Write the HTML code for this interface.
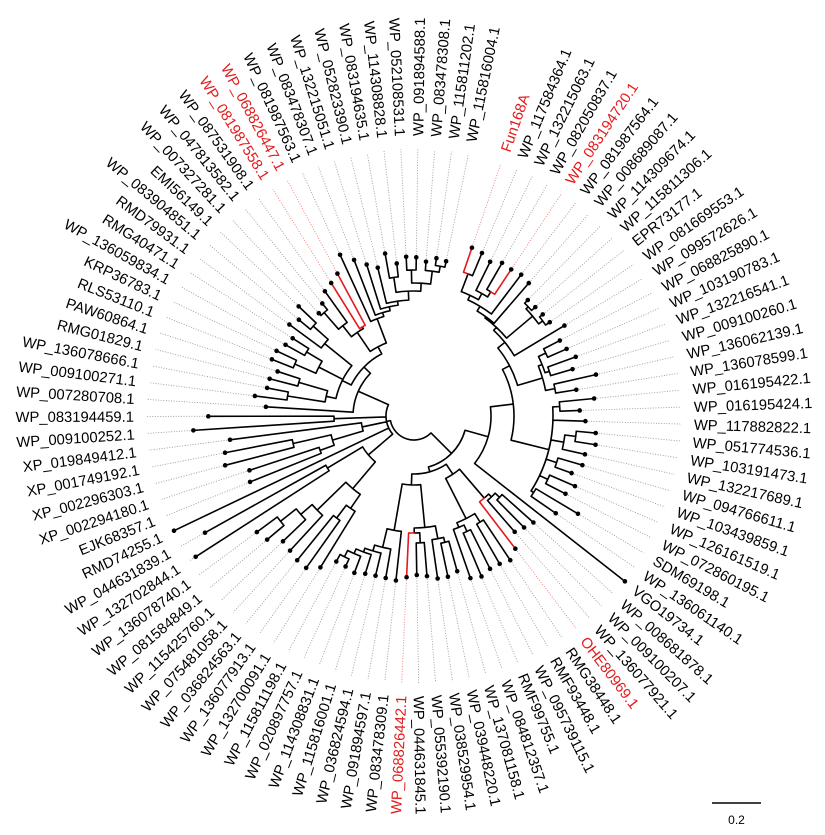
<!DOCTYPE html>
<html><head><meta charset="utf-8">
<style>
html,body{margin:0;padding:0;background:#fff;}
svg{display:block;}
text{font-family:"Liberation Sans",Arial,sans-serif;font-size:14.8px;fill:#000;}
</style></head><body>
<svg id="s" width="825" height="835" viewBox="0 0 825 835" xmlns="http://www.w3.org/2000/svg">
<g id="tree"></g>
<g id="rl">
<text transform="rotate(-71 414 416)" x="694" y="416" dy=".36em" style="fill:#e31a1c">Fun168A</text>
<text transform="rotate(-67.364 414 416)" x="694" y="416" dy=".36em">WP_117584364.1</text>
<text transform="rotate(-63.727 414 416)" x="694" y="416" dy=".36em">WP_132215063.1</text>
<text transform="rotate(-60.091 414 416)" x="694" y="416" dy=".36em">WP_082050837.1</text>
<text transform="rotate(-56.455 414 416)" x="694" y="416" dy=".36em" style="fill:#e31a1c">WP_083194720.1</text>
<text transform="rotate(-52.818 414 416)" x="694" y="416" dy=".36em">WP_081987564.1</text>
<text transform="rotate(-49.182 414 416)" x="694" y="416" dy=".36em">WP_008689087.1</text>
<text transform="rotate(-45.545 414 416)" x="694" y="416" dy=".36em">WP_114309674.1</text>
<text transform="rotate(-41.909 414 416)" x="694" y="416" dy=".36em">WP_115811306.1</text>
<text transform="rotate(-38.273 414 416)" x="694" y="416" dy=".36em">EPR73177.1</text>
<text transform="rotate(-34.636 414 416)" x="694" y="416" dy=".36em">WP_081669553.1</text>
<text transform="rotate(-31 414 416)" x="694" y="416" dy=".36em">WP_099572626.1</text>
<text transform="rotate(-27.364 414 416)" x="694" y="416" dy=".36em">WP_068825890.1</text>
<text transform="rotate(-23.727 414 416)" x="694" y="416" dy=".36em">WP_103190783.1</text>
<text transform="rotate(-20.091 414 416)" x="694" y="416" dy=".36em">WP_132216541.1</text>
<text transform="rotate(-16.455 414 416)" x="694" y="416" dy=".36em">WP_009100260.1</text>
<text transform="rotate(-12.818 414 416)" x="694" y="416" dy=".36em">WP_136062139.1</text>
<text transform="rotate(-9.182 414 416)" x="694" y="416" dy=".36em">WP_136078599.1</text>
<text transform="rotate(-5.545 414 416)" x="694" y="416" dy=".36em">WP_016195422.1</text>
<text transform="rotate(-1.909 414 416)" x="694" y="416" dy=".36em">WP_016195424.1</text>
<text transform="rotate(1.727 414 416)" x="694" y="416" dy=".36em">WP_117882822.1</text>
<text transform="rotate(5.364 414 416)" x="694" y="416" dy=".36em">WP_051774536.1</text>
<text transform="rotate(9 414 416)" x="694" y="416" dy=".36em">WP_103191473.1</text>
<text transform="rotate(12.636 414 416)" x="694" y="416" dy=".36em">WP_132217689.1</text>
<text transform="rotate(16.273 414 416)" x="694" y="416" dy=".36em">WP_094766611.1</text>
<text transform="rotate(19.909 414 416)" x="694" y="416" dy=".36em">WP_103439859.1</text>
<text transform="rotate(23.545 414 416)" x="694" y="416" dy=".36em">WP_126161519.1</text>
<text transform="rotate(27.182 414 416)" x="694" y="416" dy=".36em">WP_072860195.1</text>
<text transform="rotate(30.818 414 416)" x="694" y="416" dy=".36em">SDM69198.1</text>
<text transform="rotate(34.455 414 416)" x="694" y="416" dy=".36em">WP_136061140.1</text>
<text transform="rotate(38.091 414 416)" x="694" y="416" dy=".36em">VGO19734.1</text>
<text transform="rotate(41.727 414 416)" x="694" y="416" dy=".36em">WP_008681878.1</text>
<text transform="rotate(45.364 414 416)" x="694" y="416" dy=".36em">WP_009100207.1</text>
<text transform="rotate(49 414 416)" x="694" y="416" dy=".36em">WP_136077921.1</text>
<text transform="rotate(52.636 414 416)" x="694" y="416" dy=".36em" style="fill:#e31a1c">OHE80969.1</text>
<text transform="rotate(56.273 414 416)" x="694" y="416" dy=".36em">RMG38448.1</text>
<text transform="rotate(59.909 414 416)" x="694" y="416" dy=".36em">RMF93448.1</text>
<text transform="rotate(63.545 414 416)" x="694" y="416" dy=".36em">WP_095739115.1</text>
<text transform="rotate(67.182 414 416)" x="694" y="416" dy=".36em">RMF99755.1</text>
<text transform="rotate(70.818 414 416)" x="694" y="416" dy=".36em">WP_084812357.1</text>
<text transform="rotate(74.455 414 416)" x="694" y="416" dy=".36em">WP_137081158.1</text>
<text transform="rotate(78.091 414 416)" x="694" y="416" dy=".36em">WP_039448220.1</text>
<text transform="rotate(81.727 414 416)" x="694" y="416" dy=".36em">WP_038529954.1</text>
<text transform="rotate(85.364 414 416)" x="694" y="416" dy=".36em">WP_055392190.1</text>
<text transform="rotate(89 414 416)" x="694" y="416" dy=".36em">WP_044631845.1</text>
<text transform="rotate(-89.182 414 416)" x="694" y="416" dy=".36em">WP_091894588.1</text>
<text transform="rotate(-85.545 414 416)" x="694" y="416" dy=".36em">WP_083478308.1</text>
<text transform="rotate(-81.909 414 416)" x="694" y="416" dy=".36em">WP_115811202.1</text>
<text transform="rotate(-78.273 414 416)" x="694" y="416" dy=".36em">WP_115816004.1</text>
</g>
<g id="ll" text-anchor="end">
<text transform="rotate(-87.364 414 416)" x="134" y="416" dy=".36em" style="fill:#e31a1c">WP_068826442.1</text>
<text transform="rotate(-83.727 414 416)" x="134" y="416" dy=".36em">WP_083478309.1</text>
<text transform="rotate(-80.091 414 416)" x="134" y="416" dy=".36em">WP_091894597.1</text>
<text transform="rotate(-76.455 414 416)" x="134" y="416" dy=".36em">WP_036824594.1</text>
<text transform="rotate(-72.818 414 416)" x="134" y="416" dy=".36em">WP_115816001.1</text>
<text transform="rotate(-69.182 414 416)" x="134" y="416" dy=".36em">WP_114308831.1</text>
<text transform="rotate(-65.545 414 416)" x="134" y="416" dy=".36em">WP_020897757.1</text>
<text transform="rotate(-61.909 414 416)" x="134" y="416" dy=".36em">WP_115811198.1</text>
<text transform="rotate(-58.273 414 416)" x="134" y="416" dy=".36em">WP_132700091.1</text>
<text transform="rotate(-54.636 414 416)" x="134" y="416" dy=".36em">WP_136077913.1</text>
<text transform="rotate(-51 414 416)" x="134" y="416" dy=".36em">WP_036824563.1</text>
<text transform="rotate(-47.364 414 416)" x="134" y="416" dy=".36em">WP_075481058.1</text>
<text transform="rotate(-43.727 414 416)" x="134" y="416" dy=".36em">WP_115425760.1</text>
<text transform="rotate(-40.091 414 416)" x="134" y="416" dy=".36em">WP_081584849.1</text>
<text transform="rotate(-36.455 414 416)" x="134" y="416" dy=".36em">WP_136078740.1</text>
<text transform="rotate(-32.818 414 416)" x="134" y="416" dy=".36em">WP_132702844.1</text>
<text transform="rotate(-29.182 414 416)" x="134" y="416" dy=".36em">WP_044631839.1</text>
<text transform="rotate(-25.545 414 416)" x="134" y="416" dy=".36em">RMD74255.1</text>
<text transform="rotate(-21.909 414 416)" x="134" y="416" dy=".36em">EJK68357.1</text>
<text transform="rotate(-18.273 414 416)" x="134" y="416" dy=".36em">XP_002294180.1</text>
<text transform="rotate(-14.636 414 416)" x="134" y="416" dy=".36em">XP_002296303.1</text>
<text transform="rotate(-11 414 416)" x="134" y="416" dy=".36em">XP_001749192.1</text>
<text transform="rotate(-7.364 414 416)" x="134" y="416" dy=".36em">XP_019849412.1</text>
<text transform="rotate(-3.727 414 416)" x="134" y="416" dy=".36em">WP_009100252.1</text>
<text transform="rotate(-0.091 414 416)" x="134" y="416" dy=".36em">WP_083194459.1</text>
<text transform="rotate(3.545 414 416)" x="134" y="416" dy=".36em">WP_007280708.1</text>
<text transform="rotate(7.182 414 416)" x="134" y="416" dy=".36em">WP_009100271.1</text>
<text transform="rotate(10.818 414 416)" x="134" y="416" dy=".36em">WP_136078666.1</text>
<text transform="rotate(14.455 414 416)" x="134" y="416" dy=".36em">RMG01829.1</text>
<text transform="rotate(18.091 414 416)" x="134" y="416" dy=".36em">PAW60864.1</text>
<text transform="rotate(21.727 414 416)" x="134" y="416" dy=".36em">RLS53110.1</text>
<text transform="rotate(25.364 414 416)" x="134" y="416" dy=".36em">KRP36783.1</text>
<text transform="rotate(29 414 416)" x="134" y="416" dy=".36em">WP_136059834.1</text>
<text transform="rotate(32.636 414 416)" x="134" y="416" dy=".36em">RMG40471.1</text>
<text transform="rotate(36.273 414 416)" x="134" y="416" dy=".36em">RMD79931.1</text>
<text transform="rotate(39.909 414 416)" x="134" y="416" dy=".36em">WP_083904851.1</text>
<text transform="rotate(43.545 414 416)" x="134" y="416" dy=".36em">EMI56149.1</text>
<text transform="rotate(47.182 414 416)" x="134" y="416" dy=".36em">WP_007327281.1</text>
<text transform="rotate(50.818 414 416)" x="134" y="416" dy=".36em">WP_047813582.1</text>
<text transform="rotate(54.455 414 416)" x="134" y="416" dy=".36em">WP_087531908.1</text>
<text transform="rotate(58.091 414 416)" x="134" y="416" dy=".36em" style="fill:#e31a1c">WP_081987558.1</text>
<text transform="rotate(61.727 414 416)" x="134" y="416" dy=".36em" style="fill:#e31a1c">WP_068826447.1</text>
<text transform="rotate(65.364 414 416)" x="134" y="416" dy=".36em">WP_081987563.1</text>
<text transform="rotate(69 414 416)" x="134" y="416" dy=".36em">WP_083478307.1</text>
<text transform="rotate(72.636 414 416)" x="134" y="416" dy=".36em">WP_132215051.1</text>
<text transform="rotate(76.273 414 416)" x="134" y="416" dy=".36em">WP_052823390.1</text>
<text transform="rotate(79.909 414 416)" x="134" y="416" dy=".36em">WP_083194635.1</text>
<text transform="rotate(83.545 414 416)" x="134" y="416" dy=".36em">WP_114308828.1</text>
<text transform="rotate(87.182 414 416)" x="134" y="416" dy=".36em">WP_052108531.1</text>
</g>
<line x1="712" y1="803" x2="761" y2="803" stroke="#000" stroke-width="1.5"/>
<text x="736.5" y="824" text-anchor="middle" style="font-size:12px">0.2</text>
</svg>
<script>
(function(){
var CX=414,CY=416,NS="http://www.w3.org/2000/svg";
function th(i){return -71+(i-1)*360/99;}
var R={1:178,2:176.6,3:172,4:176.6,5:175.9,6:177.4,7:175.6,8:162.5,9:163,10:164,11:165,12:175.5,13:164.2,14:166.7,15:172.2,16:165.3,17:186.6,18:164.4,19:181,20:165.8,21:171.5,22:182.5,23:183.8,24:175.2,25:175.4,26:167.6,27:175.6,28:170.3,29:190.9,30:171.9,31:268,32:160,33:156.7,34:153.5,35:167,36:173.4,37:170.9,38:170.7,39:174.1,40:171.7,41:161.2,42:164.3,43:164.2,44:160.6,45:159,46:161.4,47:165.5,48:164.5,49:164.3,50:165.1,51:167.8,52:165.3,53:165,54:178,55:186.3,56:185.6,57:183,58:181.3,59:192,60:195.4,61:259.8,62:239.4,63:266,64:176.7,65:173.3,66:195.2,67:192.5,68:185.5,69:221.1,70:205.7,71:148.4,72:160.4,73:149.6,74:149.1,75:143.5,76:153,77:152.1,78:146.9,79:144.1,80:154.6,81:150.1,82:159.1,83:140.1,84:145.2,85:153.3,86:156.7,87:161.7,88:177.4,89:167.2,90:158.7,91:152.7,92:165,93:153.5,94:159.4,95:158.7,96:154.8,97:159.4,98:158};
var RED={1:1,5:1,35:1,46:1,86:1,87:1};
function N(r){return {r:r,c:Array.prototype.slice.call(arguments,1)};}
var V10=N(117,N(121,N(122.5,N(128,N(133,N(152,1,2),N(140,3,N(146,4,5))),6),7),N(155,N(158,8,9),N(160,10,11))),12);
var V12=N(134,N(138,N(146,13,14),N(142.5,15,16)),N(143.5,17,18));
var Vtop=N(108,V10,V12);
var W=N(139,N(146,19,20),21,N(152,N(163,22,23),24),N(150,25,26),N(148,27,28),N(142,29,30));
var U=N(100,Vtop,W);
var T=N(77,U,31);
var B1=N(108,N(112,N(118,32,33),34),35);
var B2=N(115,N(125,36,37),N(120,N(127,38,39),40));
var B3=N(112,N(125,N(130,41,42),43),N(117,N(127,44,45),46));
var G47=N(116,47,N(135,48,N(141,49,N(145,50,N(150,51,N(157,52,53))))));
var B=N(58,N(70,B1,B2),N(69,B3,G47));
var Rn=N(53,T,B);
var D=N(60,N(95,N(112,54,N(128,55,56)),N(135,57,N(150,58,N(170,59,60)))),N(101,61,62));
var C=N(53,N(85,N(100,64,65),N(124,66,67)),68);
var P=N(80,69,70);
var A1=N(80,N(90,N(128,72,73),N(120,74,75)),N(107,N(130,76,77),N(125,78,79)),N(115,80,N(135,81,82)));
var A2=N(78,N(101,N(115,N(137,83,84),85),N(103,86,87)),N(104,88,N(108,89,N(112,90,N(116,91,N(125,N(140,92,93),N(133,N(146,94,95),N(146,96,N(152,97,98)))))))));
var A=N(61,71,N(70,A1,A2));
var Ln=N(28,D,63,C,P,A);
var root=N(24,Rn,Ln);
function ang(n){if(typeof n==="number")return th(n);if(n.a===undefined){var s=0;for(var k=0;k<n.c.length;k++)s+=ang(n.c[k]);n.a=s/n.c.length;}return n.a;}
function rad(n){return typeof n==="number"?R[n]:n.r;}
function pt(r,a){var t=a*Math.PI/180;return [(CX+r*Math.cos(t)).toFixed(2),(CY+r*Math.sin(t)).toFixed(2)];}
var blk="",red="";
function draw(n){if(typeof n==="number")return;var ap=ang(n),r=n.r;for(var k=0;k<n.c.length;k++){var c=n.c[k];var ac=ang(c),rc=rad(c);var p1=pt(r,ap),p2=pt(r,ac),p3=pt(rc,ac);var d="";if(Math.abs(ac-ap)>0.01){d+="M"+p1[0]+" "+p1[1]+"A"+r+" "+r+" 0 "+(Math.abs(ac-ap)>180?1:0)+" "+(ac>ap?1:0)+" "+p2[0]+" "+p2[1];}d+="M"+p2[0]+" "+p2[1]+"L"+p3[0]+" "+p3[1];if(typeof c==="number"&&RED[c])red+=d;else blk+=d;draw(c);}}
draw(root);
function mk(tag,attrs,parent){var e=document.createElementNS(NS,tag);for(var k in attrs)e.setAttribute(k,attrs[k]);parent.appendChild(e);return e;}
var g=document.getElementById("tree");
var dg="",dr="";
for(var i=1;i<=98;i++){if(R[i]<262){var a=pt(R[i]+3,th(i)),b=pt(267,th(i));var s="M"+a[0]+" "+a[1]+"L"+b[0]+" "+b[1];if(RED[i])dr+=s;else dg+=s;}}
mk("path",{d:dg,stroke:"#9a9a9a","stroke-width":"0.9","stroke-dasharray":"1 1.6",fill:"none"},g);
mk("path",{d:dr,stroke:"#f07a7a","stroke-width":"0.9","stroke-dasharray":"1 1.6",fill:"none"},g);
mk("path",{d:blk,stroke:"#000","stroke-width":"1.6",fill:"none","stroke-linecap":"round","stroke-linejoin":"round"},g);
mk("path",{d:red,stroke:"#e31a1c","stroke-width":"1.6",fill:"none","stroke-linecap":"round","stroke-linejoin":"round"},g);
for(var j=1;j<=98;j++){var p=pt(R[j],th(j));mk("circle",{cx:p[0],cy:p[1],r:"2.3",fill:"#000"},g);}
})();
</script>
</body></html>
